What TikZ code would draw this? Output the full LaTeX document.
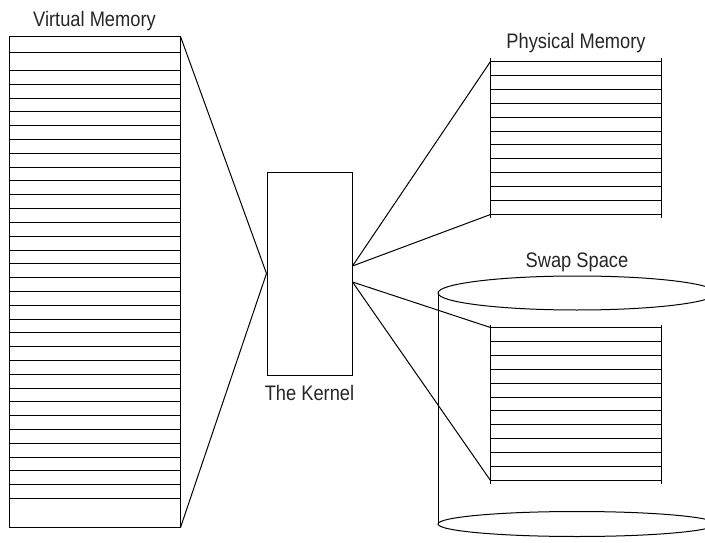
\documentclass[tikz,border=0pt]{standalone}
\usepackage{fontspec}
\setmainfont[FakeStretch=0.87]{Liberation Sans}
\usetikzlibrary{positioning,calc}

\begin{document}
\begin{tikzpicture}[x=1pt,y=-1pt,line width=1pt,
    caption/.style={inner sep=0pt,text=black!85,font=\fontsize{21}{25}\selectfont},
    every label/.style={caption}]
  \useasboundingbox (0,0) rectangle (705,543);
  \tikzset{block/.style={draw,rectangle,inner sep=0pt}}
  \tikzset{stack/.style={rectangle,inner sep=0pt,minimum width=170pt,minimum height=152pt}}
  \node[block,minimum width=171pt,minimum height=490pt,label={[label distance=5pt]above:Virtual Memory}] (vm) at (94.5,282) {};
  \node[block,minimum width=85pt,minimum height=203pt,label={[label distance=9.5pt]below:The Kernel}] (kernel) at (309.5,273.5) {};
  \node[stack,label={[label distance=8pt]above:Physical Memory}] (phys) at (576,138) {};
  \node[stack] (swap) [below=113pt of phys] {};
  % the disk
  \coordinate (disktop) at (577,293);
  \coordinate (diskbot) at (577,524);
  \coordinate (disktip) at ([yshift=17pt]disktop);
  \draw (disktop) ellipse [x radius=139pt, y radius=17pt];
  \draw ([xshift=-139pt]disktop) -- ([xshift=-139pt]diskbot);
  \draw ([xshift=139pt]disktop) -- ([xshift=139pt]diskbot);
  \draw (diskbot) ellipse [x radius=139pt, y radius=12.5pt];
  \node[caption] (swaplabel) [above=4pt of disktip] {Swap Space};
  % pages
  \draw ([yshift=-16pt]vm.north west) -- ([yshift=-16pt]vm.north east);
  \foreach \i in {0,...,31}
    \draw ([yshift={-34pt-13.81pt*\i}]vm.north west) -- ([yshift={-34pt-13.81pt*\i}]vm.north east);
  \foreach \s in {phys,swap}{
    \draw ([yshift=3pt]\s.north west) -- ([yshift=-3pt]\s.south west);
    \draw ([yshift=3pt]\s.north east) -- ([yshift=-3pt]\s.south east);
    \foreach \i in {0,...,11}
      \draw ($(\s.north west)!\i/11!(\s.south west)$) -- ($(\s.north east)!\i/11!(\s.south east)$);
  }
  \coordinate (kup) at ([yshift=7.5pt]kernel.east);
  \coordinate (kdown) at ([yshift=-8.5pt]kernel.east);
  \path (vm.north east) edge (kernel.west)
        (vm.south east) edge (kernel.west)
        (kup) edge (phys.north west)
        (kup) edge (phys.south west)
        (kdown) edge (swap.north west)
        (kdown) edge (swap.south west);
\end{tikzpicture}
\end{document}
